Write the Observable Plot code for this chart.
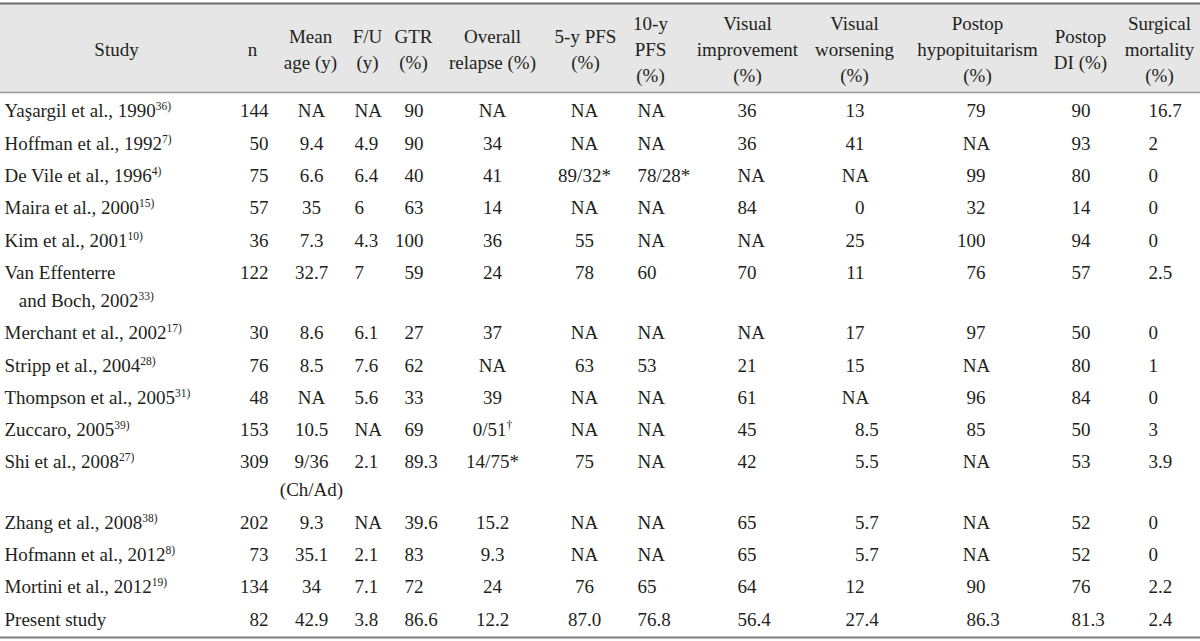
<!DOCTYPE html>
<html>
<head>
<meta charset="utf-8">
<script src="https://cdn.jsdelivr.net/npm/d3@7"></script>
<script src="https://cdn.jsdelivr.net/npm/@observablehq/plot@0.6"></script>
<style>
html, body { margin: 0; padding: 0; background: #fff; }
#chart svg { display: block; }
</style>
</head>
<body>
<div id="chart"></div>
<script>
// ---------------- data ----------------
const studies = [
  "Yaşargil et al., 1990", "Hoffman et al., 1992", "De Vile et al., 1996", "Maira et al., 2000",
  "Kim et al., 2001", "Van Effenterre\n\u00a0\u00a0\u00a0and Boch, 2002", "Merchant et al., 2002",
  "Stripp et al., 2004", "Thompson et al., 2005", "Zuccaro, 2005", "Shi et al., 2008",
  "Zhang et al., 2008", "Hofmann et al., 2012", "Mortini et al., 2012", "Present study"
];
const refs = ["36)", "7)", "4)", "15)", "10)", "33)", "17)", "28)", "31)", "39)", "27)", "38)", "8)", "19)", ""];
const nValues   = ["144","50","75","57","36","122","30","76","48","153","309","202","73","134","82"];
const meanAge   = ["NA","9.4","6.6","35","7.3","32.7","8.6","8.5","NA","10.5","9/36\n(Ch/Ad)","9.3","35.1","34","42.9"];
const followUp  = ["NA","4.9","6.4","6","4.3","7","6.1","7.6","5.6","NA","2.1","NA","2.1","7.1","3.8"];
const gtr       = ["90","90","40","63","100","59","27","62","33","69","89.3","39.6","83","72","86.6"];
const relapse   = ["NA","34","41","14","36","24","37","NA","39","0/51†","14/75*","15.2","9.3","24","12.2"];
const pfs5      = ["NA","NA","89/32*","NA","55","78","NA","63","NA","NA","75","NA","NA","76","87.0"];
const pfs10     = ["NA","NA","78/28*","NA","NA","60","NA","53","NA","NA","NA","NA","NA","65","76.8"];
const visImp    = ["36","36","NA","84","NA","70","NA","21","61","45","42","65","65","64","56.4"];
const visWor    = ["13","41","NA","0","25","11","17","15","NA","8.5","5.5","5.7","5.7","12","27.4"];
const hypo      = ["79","NA","99","32","100","76","97","NA","96","85","NA","NA","NA","90","86.3"];
const postDI    = ["90","93","80","14","94","57","50","80","84","50","53","52","52","76","81.3"];
const mortality = ["16.7","2","0","0","0","2.5","0","1","0","3","3.9","0","0","2.2","2.4"];
const headers = [
  "Study", "n", "Mean\nage (y)", "F/U\n(y)", "GTR\n(%)", "Overall\nrelapse (%)", "5-y PFS\n(%)",
  "10-y\nPFS\n(%)", "Visual\nimprovement\n(%)", "Visual\nworsening\n(%)",
  "Postop\nhypopituitarism\n(%)", "Postop\nDI (%)", "Surgical\nmortality\n(%)"
];
const columnValues = [nValues, meanAge, followUp, gtr, relapse, pfs5, pfs10, visImp, visWor, hypo, postDI, mortality];

// ---------------- layout ----------------
const W = 1200, H = 641;
const FONT = 19;
const headerTop = 3, headerBottom = 92, tableBottom = 637;
const firstRowY = 108, rowPitch = 32.3, wrapGap = 28, headerLine = 26;
const studyX = 4;
const headerX = [116, 252, 310, 367, 413, 492, 585, 650, 747, 854, 977, 1080, 1159];
// per value column: body anchor position and alignment mode
const colLayout = [
  {x: 268,  align: "end"},
  {x: 311,  align: "middle"},
  {x: 354,  align: "start"},
  {x: 423,  align: "decimal", na: 413},
  {x: 492,  align: "middle"},
  {x: 584,  align: "middle"},
  {x: 637,  align: "start"},
  {x: 737,  align: "start"},
  {x: 864,  align: "decimal", na: 855},
  {x: 985,  align: "decimal", na: 976},
  {x: 1090, align: "decimal", na: 1080},
  {x: 1148, align: "start"}
];

// row positions (first-line centers)
const nLines = s => s.split("\n").length;
const rowY = [];
let extra = 0;
studies.forEach((s, i) => {
  rowY.push(firstRowY + i * rowPitch + extra * wrapGap);
  const lines = Math.max(nLines(s), ...columnValues.map(c => nLines(c[i])));
  extra += lines - 1;
});

// build cells
const cells = [];
columnValues.forEach((vals, c) => {
  const L = colLayout[c];
  vals.forEach((v, i) => {
    const y = rowY[i] + (nLines(v) - 1) * wrapGap / 2;
    if (L.align === "decimal") {
      if (v === "NA") { cells.push({text: v, x: L.na, y, anchor: "middle"}); return; }
      const [a, b] = v.split(".");
      cells.push({text: a, x: L.x, y, anchor: "end"});
      if (b !== undefined) cells.push({text: "." + b, x: L.x, y, anchor: "start"});
    } else {
      cells.push({text: v, x: L.x, y, anchor: L.align});
    }
  });
});
const studyRows = studies.map((s, i) => ({text: s, ref: refs[i], x: studyX, y: rowY[i] + (nLines(s) - 1) * wrapGap / 2}));
const headerCells = headers.map((h, i) => ({text: h, x: headerX[i], y: (headerTop + headerBottom) / 2}));

const SVGNS = "http://www.w3.org/2000/svg";
function addSup(host, str) {
  const s = document.createElementNS(SVGNS, "tspan");
  s.setAttribute("font-size", "11.5");
  s.setAttribute("dy", "-7");
  s.textContent = str;
  host.appendChild(s);
}
// superscript reference numbers after study names
function studyRender(index, scales, values, dims, ctx, next) {
  const g = next(index, scales, values, dims, ctx);
  g.querySelectorAll("text").forEach((t, j) => {
    const ref = studyRows[index[j]].ref;
    if (!ref) return;
    const spans = t.querySelectorAll("tspan");
    addSup(spans.length ? spans[spans.length - 1] : t, ref);
  });
  return g;
}
// superscript daggers in cells
function cellRender(index, scales, values, dims, ctx, next) {
  const g = next(index, scales, values, dims, ctx);
  g.querySelectorAll("text").forEach(t => {
    if (t.childElementCount === 0 && t.textContent.endsWith("†")) {
      t.textContent = t.textContent.slice(0, -1);
      addSup(t, "†");
    }
  });
  return g;
}

const textStyle = {fontSize: FONT, fill: "#231f20", lineAnchor: "middle"};
const cellMark = anchor => Plot.text(cells.filter(d => d.anchor === anchor), {
  x: "x", y: "y", text: "text", textAnchor: anchor, lineHeight: wrapGap / FONT, ...textStyle, render: cellRender
});

const chart = Plot.plot({
  width: W, height: H,
  margin: 0,
  x: {type: "linear", domain: [0, W], range: [0, W], axis: null},
  y: {type: "linear", domain: [0, H], range: [0, H], axis: null},
  style: {fontFamily: "'Liberation Serif', 'DejaVu Serif', serif", fontSize: "19px", background: "#fff", color: "#231f20"},
  marks: [
    Plot.rect([{x1: 0, x2: W, y1: headerTop, y2: headerBottom}], {x1: "x1", x2: "x2", y1: "y1", y2: "y2", fill: "#e6e6e6"}),
    Plot.ruleY([headerTop], {stroke: "#6e6e6e", strokeWidth: 2}),
    Plot.ruleY([headerBottom], {stroke: "#9a9a9a", strokeWidth: 1.3}),
    Plot.ruleY([tableBottom], {stroke: "#7d7d7d", strokeWidth: 2}),
    Plot.text(headerCells, {x: "x", y: "y", text: "text", textAnchor: "middle", lineHeight: headerLine / FONT, ...textStyle}),
    Plot.text(studyRows, {x: "x", y: "y", text: "text", textAnchor: "start", lineHeight: wrapGap / FONT, ...textStyle, render: studyRender}),
    cellMark("start"),
    cellMark("middle"),
    cellMark("end")
  ]
});
document.getElementById("chart").appendChild(chart);
</script>
</body>
</html>
